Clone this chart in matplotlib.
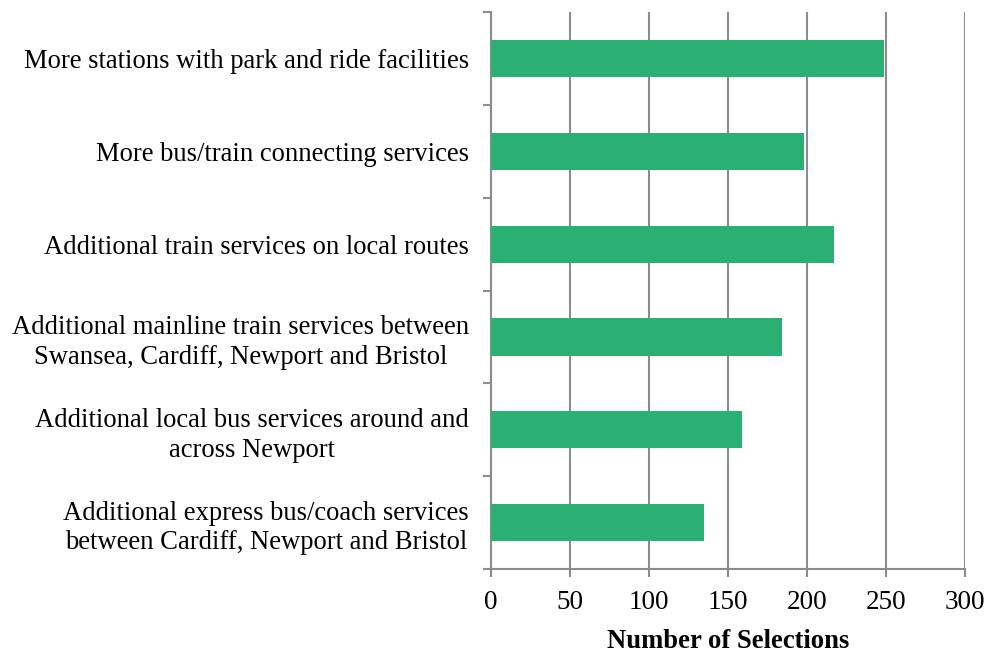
import matplotlib.pyplot as plt
import numpy as np

categories = [
    "More stations with park and ride facilities",
    "More bus/train connecting services",
    "Additional train services on local routes",
    "Additional mainline train services between\nSwansea, Cardiff, Newport and Bristol",
    "Additional local bus services around and\nacross Newport",
    "Additional express bus/coach services\nbetween Cardiff, Newport and Bristol",
]
selections = [249, 198, 217, 184, 159, 135]
x_ticks = [0, 50, 100, 150, 200, 250, 300]

plt.rcParams['font.family'] = ['Liberation Serif', 'DejaVu Serif']

fig = plt.figure(figsize=(9.89, 6.53), dpi=100)
ax = fig.add_axes([0.4965, 0.1286, 0.4792, 0.853])

y = np.arange(len(categories))[::-1]
ax.barh(y, selections, height=0.4, color='#2BB074', zorder=3)

ax.set_xlim(0, 300)
ax.set_ylim(-0.5, len(categories) - 0.5)
ax.set_xticks(x_ticks)
ax.set_xticklabels([str(t) for t in x_ticks], fontsize=19.5)
ax.xaxis.grid(True, color='#8c8c8c', linewidth=1.5, zorder=0)

# category labels between the boundary ticks
ax.set_yticks(np.arange(-0.5, len(categories), 1.0))
ax.set_yticklabels([])
ax.set_yticks(y, minor=True)
ax.set_yticklabels(categories, minor=True, fontsize=19.2, ha='right',
                   multialignment='center', linespacing=1.25)
ax.tick_params(axis='y', which='minor', length=0, pad=16)
ax.tick_params(axis='y', which='major', length=6, width=1.5, color='#8c8c8c')
ax.tick_params(axis='x', length=6, width=1.5, color='#8c8c8c', pad=9)

for side in ['top', 'right']:
    ax.spines[side].set_visible(False)
for side in ['left', 'bottom']:
    ax.spines[side].set_color('#8c8c8c')
    ax.spines[side].set_linewidth(1.5)

ax.set_xlabel("Number of Selections", fontsize=19.2, fontweight='bold', labelpad=10)

fig.savefig("out.png", dpi=100)
